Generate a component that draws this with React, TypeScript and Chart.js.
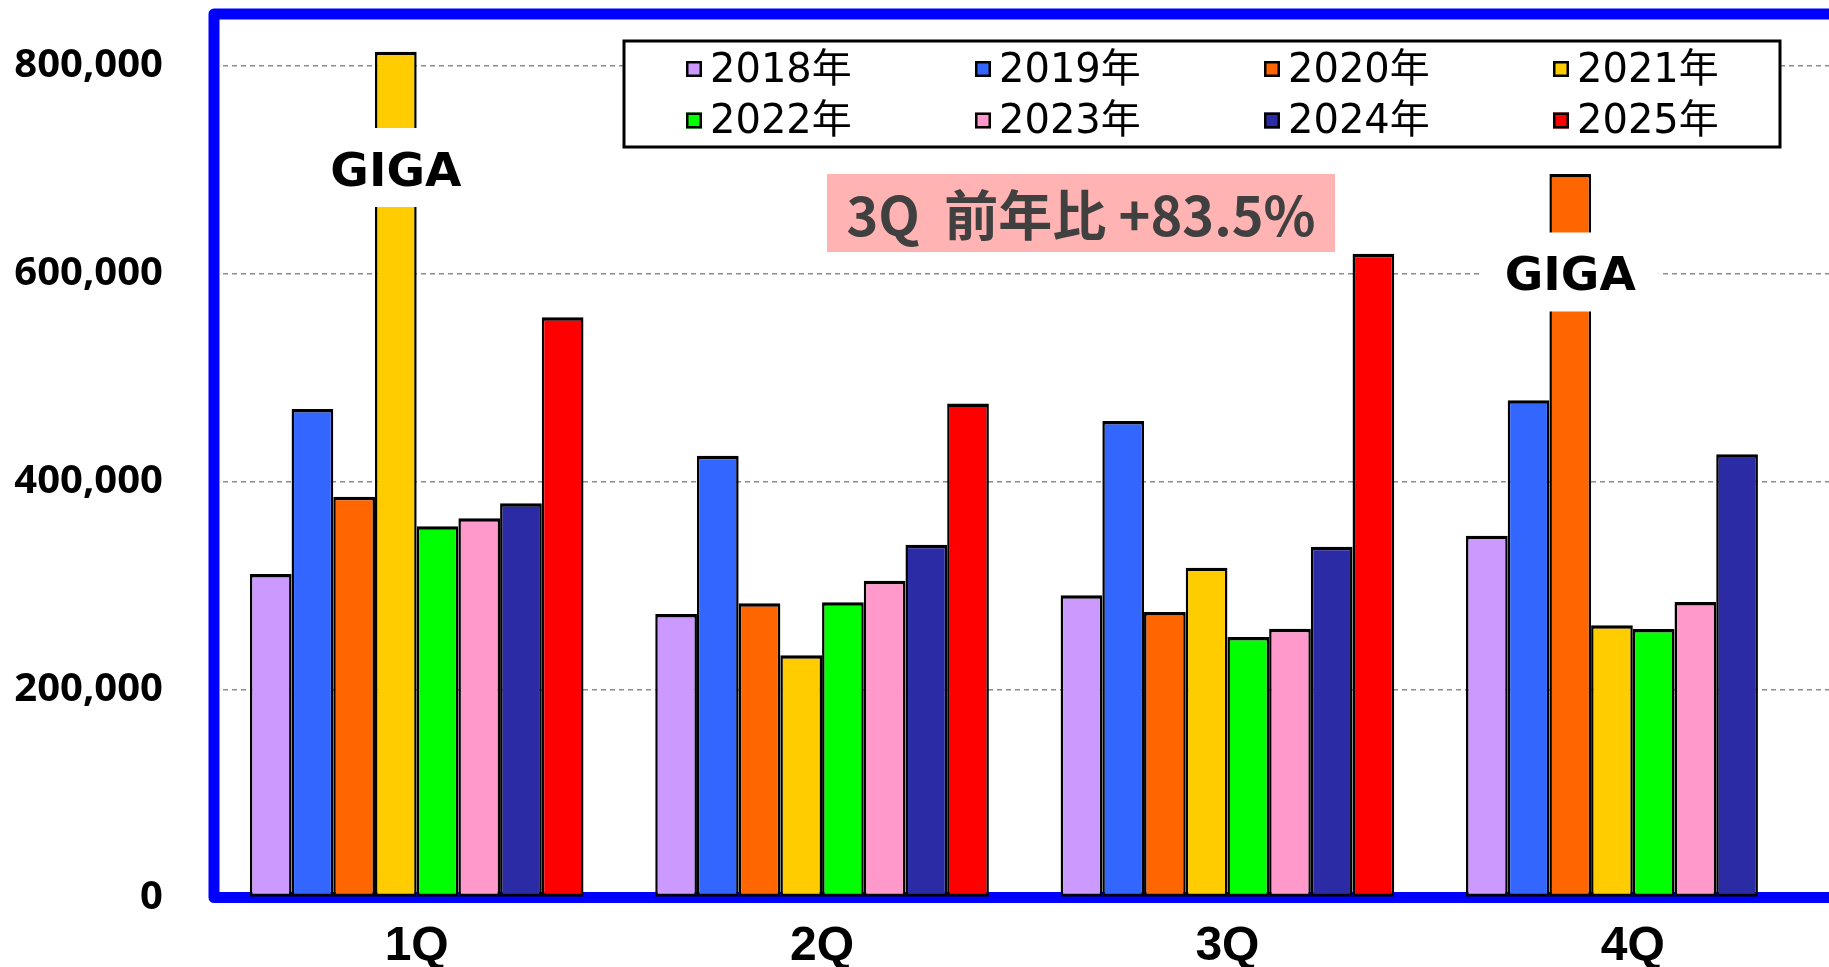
import { useEffect, useRef } from "react";
import { Chart, registerables } from "chart.js";

Chart.register(...registerables);

const categories = ["1Q", "2Q", "3Q", "4Q"];
const seriesLabels = ["2018年", "2019年", "2020年", "2021年", "2022年", "2023年", "2024年", "2025年"];
const seriesColors = ["#CC99FF", "#3366FF", "#FF6600", "#FFCC00", "#00FF00", "#FF99CC", "#2B2BA5", "#FF0000"];

const v2018 = [311200, 272800, 290700, 348100];
const v2019 = [470000, 425100, 458400, 478300];
const v2020 = [385600, 283000, 274700, 696100];
const v2021 = [813700, 233000, 317300, 261900];
const v2022 = [357100, 284000, 250600, 258300];
const v2023 = [364800, 304800, 258600, 284300];
const v2024 = [379300, 339300, 337500, 426400];
const v2025 = [558200, 475200, 619400, null];

const yTicks = [0, 200000, 400000, 600000, 800000];
const yMax = 850000;

// "GIGA" callouts: series index, category index, label centre value
const gigaSeries = [3, 2];
const gigaCategory = [0, 3];
const gigaValue = [702300, 601800];
const gigaText = "GIGA";

const noteText = "3Q  前年比 +83.5%";

const allValues = [v2018, v2019, v2020, v2021, v2022, v2023, v2024, v2025];

const framePlugin = {
  id: "blueFrame",
  beforeDatasetsDraw(chart: any) {
    const { ctx, chartArea: a } = chart;
    ctx.save();
    ctx.strokeStyle = "#0000FF";
    ctx.lineWidth = 11;
    ctx.lineJoin = "round";
    ctx.strokeRect(a.left, a.top, a.right - a.left + 60, a.bottom - a.top);
    ctx.restore();
  },
};

const overlayPlugin = {
  id: "overlay",
  afterDatasetsDraw(chart: any) {
    const { ctx } = chart;
    const yScale = chart.scales.y;
    ctx.save();

    // GIGA callouts
    for (let i = 0; i < gigaSeries.length; i++) {
      const bar = chart.getDatasetMeta(gigaSeries[i]).data[gigaCategory[i]];
      const cx = bar.x;
      const cy = yScale.getPixelForValue(gigaValue[i]);
      ctx.fillStyle = "#FFFFFF";
      ctx.fillRect(cx - 88.5, cy - 39.5, 177, 79);
      ctx.fillStyle = "#000000";
      ctx.font = "bold 47px 'DejaVu Sans', sans-serif";
      ctx.textAlign = "center";
      ctx.textBaseline = "alphabetic";
      ctx.fillText(gigaText, cx, cy + 18.5);
    }

    // Legend box
    ctx.fillStyle = "#FFFFFF";
    ctx.fillRect(624, 41, 1156, 106);
    ctx.strokeStyle = "#000000";
    ctx.lineWidth = 3;
    ctx.strokeRect(624, 41, 1156, 106);
    chart.data.datasets.forEach((ds: any, i: number) => {
      const col = i % 4;
      const row = Math.floor(i / 4);
      const mx = 686 + col * 289;
      const my = 61 + row * 51.5;
      ctx.fillStyle = ds.backgroundColor;
      ctx.fillRect(mx, my, 16, 16);
      ctx.strokeStyle = "#000000";
      ctx.lineWidth = 2.5;
      ctx.strokeRect(mx + 1.25, my + 1.25, 13.5, 13.5);
      ctx.fillStyle = "#000000";
      ctx.font = "40px 'DejaVu Sans', 'Noto Sans CJK JP', sans-serif";
      ctx.textAlign = "left";
      ctx.textBaseline = "alphabetic";
      ctx.fillText(ds.label, mx + 24, 81.7 + row * 51.6);
    });

    // Note box
    ctx.fillStyle = "#FFB3B3";
    ctx.fillRect(827, 174, 508, 78);
    ctx.fillStyle = "#404040";
    ctx.font = "bold 54px 'Noto Sans CJK JP', sans-serif";
    ctx.textAlign = "center";
    ctx.textBaseline = "middle";
    ctx.fillText(noteText, 1081, 215);

    ctx.restore();
  },
};

export default function App() {
  const ref = useRef<HTMLCanvasElement | null>(null);

  useEffect(() => {
    if (!ref.current) return;
    const chart = new Chart(ref.current, {
      type: "bar",
      data: {
        labels: categories,
        datasets: seriesLabels.map((label, i) => ({
          label,
          data: allValues[i],
          backgroundColor: seriesColors[i],
          borderColor: "#000000",
          borderWidth: { top: 3.5, left: 2.5, right: 2.5, bottom: 3 },
          borderSkipped: false,
          categoryPercentage: 0.823,
          barPercentage: 1,
        })),
      },
      options: {
        responsive: false,
        animation: false,
        devicePixelRatio: 1,
        layout: { autoPadding: false, padding: { left: 0, top: 14, right: 4.5, bottom: 0 } },
        plugins: {
          legend: { display: false },
          tooltip: { enabled: false },
        },
        scales: {
          x: {
            grid: { display: false, drawTicks: false },
            border: { display: false },
            ticks: {
              color: "#000000",
              padding: 20,
              maxRotation: 0,
              autoSkip: false,
              font: { family: "'Liberation Sans', Arial, sans-serif", size: 48, weight: "bold" },
            },
            afterFit(scale: any) {
              scale.height = 69.5;
              scale.paddingLeft = 0;
              scale.paddingRight = 0;
              scale.paddingTop = 0;
              scale.paddingBottom = 0;
            },
          },
          y: {
            min: 0,
            max: yMax,
            afterBuildTicks(scale: any) {
              scale.ticks = yTicks.map((v) => ({ value: v }));
            },
            grid: {
              drawTicks: false,
              color: (c: any) => (c.tick && c.tick.value === 0 ? "rgba(0,0,0,0)" : "#8C8C8C"),
              lineWidth: 1.5,
            },
            border: { display: false, dash: [5, 4] },
            ticks: {
              color: "#000000",
              padding: 51,
              font: { family: "'Noto Sans', sans-serif", size: 40, weight: "bold" },
              callback: (v: any) => Number(v).toLocaleString("en-US"),
            },
            afterFit(scale: any) {
              scale.width = 214;
              scale.paddingLeft = 0;
              scale.paddingRight = 0;
              scale.paddingTop = 0;
              scale.paddingBottom = 0;
            },
          },
        },
      },
      plugins: [framePlugin, overlayPlugin],
    } as any);
    return () => chart.destroy();
  }, []);

  return (
    <div style={{ position: "absolute", left: 0, top: 0, width: 1829, height: 967, overflow: "hidden", background: "#FFFFFF" }}>
      <canvas ref={ref} width={1840} height={967} style={{ width: 1840, height: 967, display: "block" }} />
    </div>
  );
}
